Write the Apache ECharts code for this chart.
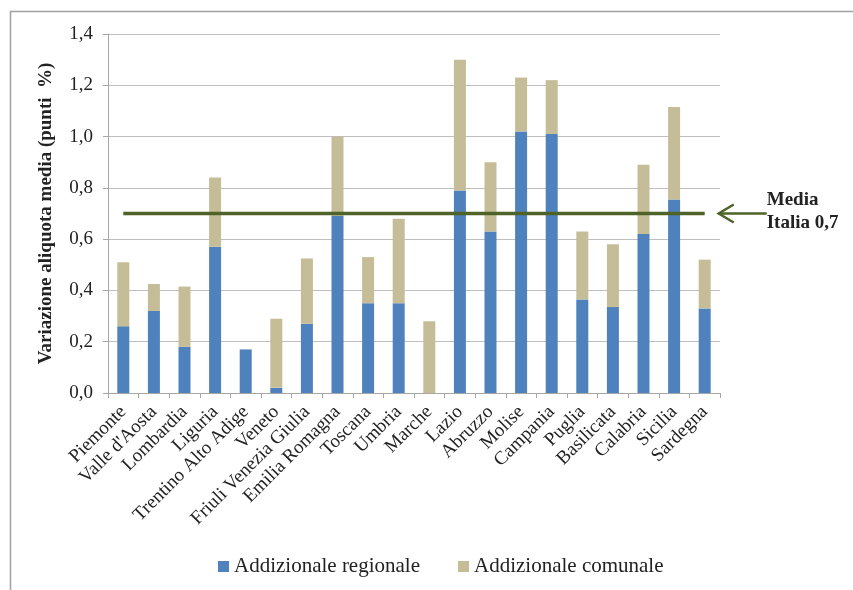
<!DOCTYPE html>
<html><head><meta charset="utf-8">
<script src="https://cdn.jsdelivr.net/npm/echarts@6/dist/echarts.min.js"></script>
<style>html,body{margin:0;padding:0;background:#fff}#c{width:853px;height:590px}</style>
</head><body><div id="c"></div>
<script>
const categories = ["Piemonte","Valle d'Aosta","Lombardia","Liguria","Trentino Alto Adige","Veneto","Friuli Venezia Giulia","Emilia Romagna","Toscana","Umbria","Marche","Lazio","Abruzzo","Molise","Campania","Puglia","Basilicata","Calabria","Sicilia","Sardegna"];
const regionale = [0.26,0.32,0.18,0.57,0.17,0.02,0.27,0.69,0.35,0.35,0.0,0.79,0.63,1.02,1.01,0.365,0.335,0.62,0.755,0.33];
const comunale  = [0.25,0.105,0.235,0.27,0.0,0.27,0.255,0.31,0.18,0.33,0.28,0.51,0.27,0.21,0.21,0.265,0.245,0.27,0.36,0.19];
const mediaItalia = 0.7;
const mediaLabel = "Media\nItalia 0,7";
const seriesNames = ["Addizionale regionale","Addizionale comunale"];
const yTicks = {min:0, max:1.4, interval:0.2};

const serif = "'Liberation Serif','DejaVu Serif',serif";
const chart = echarts.init(document.getElementById('c'));
const option = {
  animation:false,
  backgroundColor:'#fff',
  grid:{left:108,right:133,top:34,bottom:197},
  legend:{data:seriesNames,left:213,top:551,itemWidth:11,itemHeight:11,itemGap:38,
    icon:'rect',textStyle:{fontFamily:serif,fontSize:21,color:'#222'}},
  xAxis:{type:'category',data:categories,
    axisLine:{lineStyle:{color:'#a6a6a6'}},
    axisTick:{show:true,length:5,lineStyle:{color:'#a6a6a6'}},
    axisLabel:{rotate:45,interval:0,fontFamily:serif,fontSize:19,color:'#222',margin:16}},
  yAxis:{type:'value',min:yTicks.min,max:yTicks.max,interval:yTicks.interval,
    name:'Variazione aliquota media (punti  %)',nameLocation:'middle',nameGap:52,
    nameTextStyle:{fontFamily:serif,fontSize:19,fontWeight:'bold',color:'#222'},
    axisLine:{show:true,lineStyle:{color:'#a6a6a6'}},
    axisTick:{show:true,length:5,lineStyle:{color:'#a6a6a6'}},
    splitLine:{lineStyle:{color:'#bfbfbf'}},
    axisLabel:{fontFamily:serif,fontSize:19,color:'#222',margin:15,
      formatter:v=>v.toFixed(1).replace('.',',')}},
  series:[
    {name:seriesNames[0],type:'bar',stack:'a',data:regionale,barWidth:12,itemStyle:{color:'#4f81bd'}},
    {name:seriesNames[1],type:'bar',stack:'a',data:comunale,barWidth:12,itemStyle:{color:'#c4bd97'}},
    {name:'Media',type:'line',data:categories.map(()=>mediaItalia),symbol:'none',z:5,
      lineStyle:{color:'#4f6228',width:3.5}}
  ]
};
chart.setOption(option);
const end = chart.convertToPixel({xAxisIndex:0,yAxisIndex:0},[categories.length-1,mediaItalia]);
const ax = end[0], ay = end[1];
chart.setOption({graphic:[
  {type:'rect',left:8,top:9,shape:{width:860,height:600},style:{fill:'none',stroke:'#a0a0a0',lineWidth:1.5},silent:true,z:-1},
  {type:'line',shape:{x1:ax+14,y1:ay,x2:ax+62,y2:ay},style:{stroke:'#4f6228',lineWidth:2.5}},
  {type:'polyline',shape:{points:[[ax+29,ay-9],[ax+14,ay],[ax+29,ay+9]]},style:{stroke:'#4f6228',lineWidth:2.5,fill:'none'}},
  {type:'text',x:ax+62,y:ay-25,style:{text:mediaLabel,font:"bold 19px 'Liberation Serif', serif",fill:'#222',lineHeight:23}}
]});
</script></body></html>
